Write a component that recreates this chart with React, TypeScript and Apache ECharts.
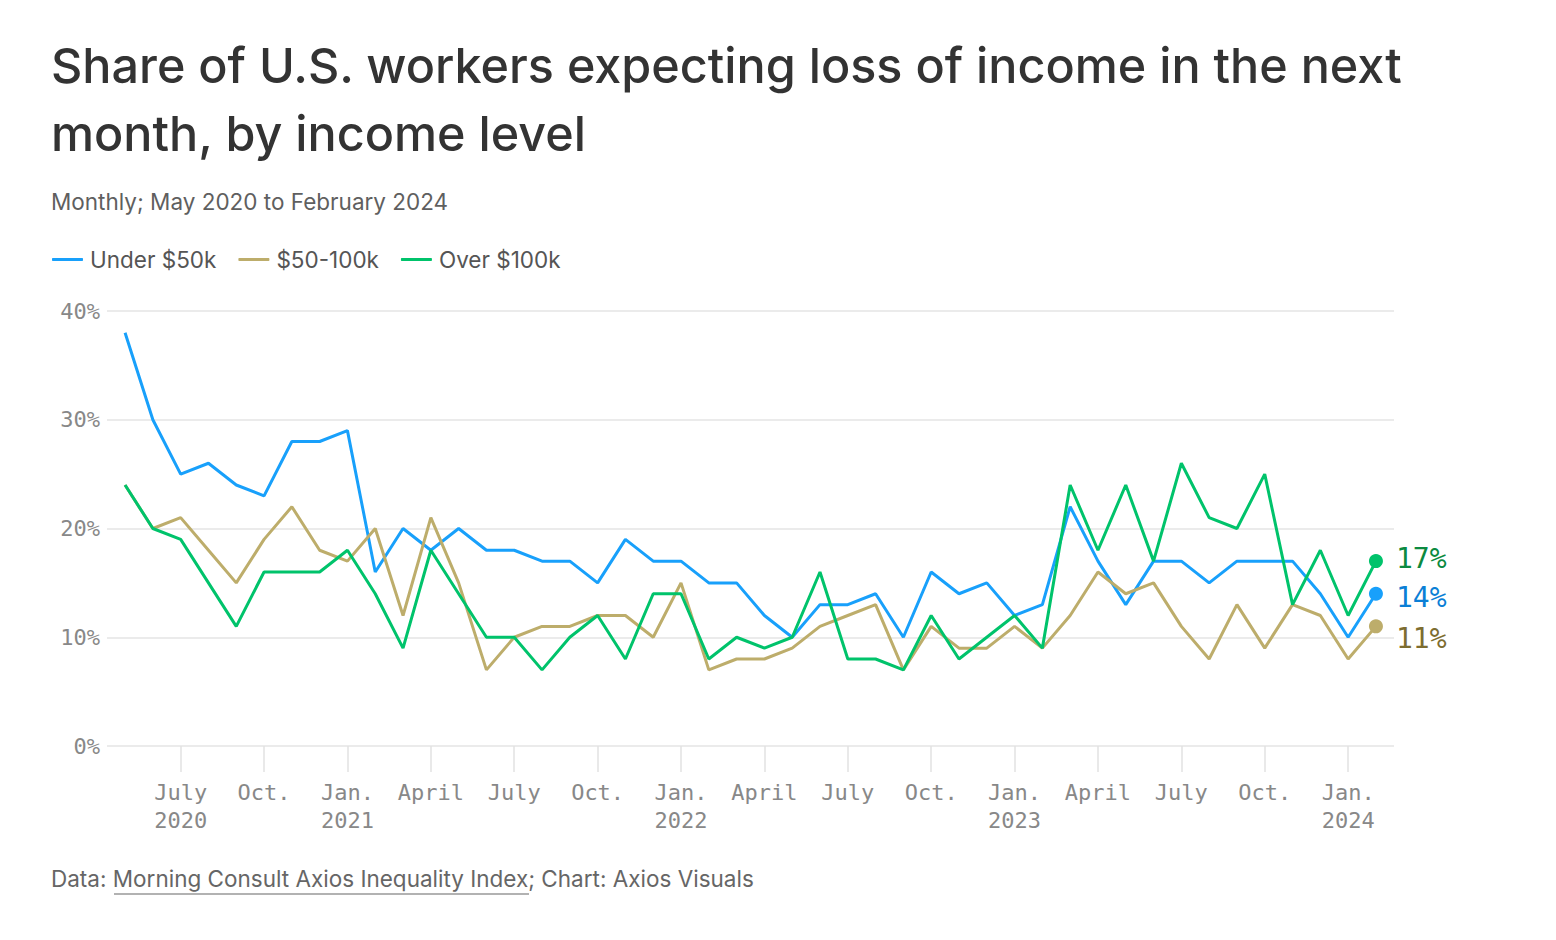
import React, { useEffect, useRef } from "react";
import * as echarts from "echarts";

const months = [
  "May 2020", "June 2020", "July 2020", "Aug. 2020", "Sept. 2020", "Oct. 2020", "Nov. 2020", "Dec. 2020",
  "Jan. 2021", "Feb. 2021", "March 2021", "April 2021", "May 2021", "June 2021", "July 2021", "Aug. 2021",
  "Sept. 2021", "Oct. 2021", "Nov. 2021", "Dec. 2021",
  "Jan. 2022", "Feb. 2022", "March 2022", "April 2022", "May 2022", "June 2022", "July 2022", "Aug. 2022",
  "Sept. 2022", "Oct. 2022", "Nov. 2022", "Dec. 2022",
  "Jan. 2023", "Feb. 2023", "March 2023", "April 2023", "May 2023", "June 2023", "July 2023", "Aug. 2023",
  "Sept. 2023", "Oct. 2023", "Nov. 2023", "Dec. 2023",
  "Jan. 2024", "Feb. 2024",
];

const under50k = [
  38, 30, 25, 26, 24, 23, 28, 28,
  29, 16, 20, 18, 20, 18, 18, 17, 17, 15, 19, 17,
  17, 15, 15, 12, 10, 13, 13, 14, 10, 16, 14, 15,
  12, 13, 22, 17, 13, 17, 17, 15, 17, 17, 17, 14,
  10, 14,
];

const mid50to100k = [
  24, 20, 21, 18, 15, 19, 22, 18,
  17, 20, 12, 21, 15, 7, 10, 11, 11, 12, 12, 10,
  15, 7, 8, 8, 9, 11, 12, 13, 7, 11, 9, 9,
  11, 9, 12, 16, 14, 15, 11, 8, 13, 9, 13, 12,
  8, 11,
];

const over100k = [
  24, 20, 19, 15, 11, 16, 16, 16,
  18, 14, 9, 18, 14, 10, 10, 7, 10, 12, 8, 14,
  14, 8, 10, 9, 10, 16, 8, 8, 7, 12, 8, 10,
  12, 9, 24, 18, 24, 17, 26, 21, 20, 25, 13, 18,
  12, 17,
];

const tickIndices = [2, 5, 8, 11, 14, 17, 20, 23, 26, 29, 32, 35, 38, 41, 44];
const tickLabels = [
  "July\n2020", "Oct.", "Jan.\n2021", "April", "July", "Oct.", "Jan.\n2022", "April",
  "July", "Oct.", "Jan.\n2023", "April", "July", "Oct.", "Jan.\n2024",
];

const seriesNames = ["Under $50k", "$50-100k", "Over $100k"];
const lineColors = ["#18a0fb", "#bdad6b", "#00c36b"];
const labelColors = ["#0b7fd6", "#7d6d30", "#0c8a40"];
const labelOffsets = [4, 12, -3];

const SANS = "Inter, 'Noto Sans', sans-serif";
const MONO = "'DejaVu Sans Mono', 'Liberation Mono', monospace";

export default function App() {
  const ref = useRef<HTMLDivElement>(null);

  useEffect(() => {
    if (!ref.current) return;
    const chart = echarts.init(ref.current, null, { renderer: "svg" });
    const allData = [under50k, mid50to100k, over100k];
    const n = months.length;

    const series = allData.map((vals, si) => ({
      name: seriesNames[si],
      type: "line",
      data: vals.map((v, i) => [i, v]),
      lineStyle: { color: lineColors[si], width: 3 },
      itemStyle: { color: lineColors[si] },
      symbol: "circle",
      showSymbol: true,
      showAllSymbol: true,
      symbolSize: (_v: any, p: any) => (p.dataIndex === n - 1 ? 14 : 0),
      emphasis: { disabled: true },
      z: 2 + si,
      endLabel: {
        show: true,
        formatter: (p: any) => `${p.value[1]}%`,
        color: labelColors[si],
        fontFamily: MONO,
        fontSize: 28,
        distance: 20,
        offset: [0, labelOffsets[si]],
      },
    }));

    chart.setOption({
      animation: false,
      backgroundColor: "#ffffff",
      title: [
        {
          text: "Share of U.S. workers expecting loss of income in the next\nmonth, by income level",
          left: 51,
          top: 31,
          padding: 0,
          textStyle: {
            fontFamily: SANS,
            fontSize: 48.5,
            fontWeight: 500,
            lineHeight: 68,
            color: "#333333",
          },
        },
        {
          text: "Monthly; May 2020 to February 2024",
          left: 51,
          top: 190,
          padding: 0,
          textStyle: { fontFamily: SANS, fontSize: 22.5, fontWeight: 400, color: "#5f5f5f" },
        },
        {
          text: "Data: Morning Consult Axios Inequality Index; Chart: Axios Visuals",
          left: 51,
          top: 867,
          padding: 0,
          textStyle: { fontFamily: SANS, fontSize: 22.5, fontWeight: 400, color: "#666666" },
        },
      ],
      legend: {
        left: 52,
        top: 248,
        padding: 0,
        icon: "roundRect",
        itemWidth: 31,
        itemHeight: 3,
        itemGap: 22,
        selectedMode: false,
        data: seriesNames,
        textStyle: { fontFamily: SANS, fontSize: 22.5, color: "#555555", padding: [0, 0, 0, 2] },
      },
      grid: { left: 107, right: 162, top: 311, bottom: 194, containLabel: false },
      xAxis: {
        type: "value",
        min: -0.65,
        max: 45.65,
        axisLine: { show: false },
        splitLine: { show: false },
        axisTick: {
          show: true,
          customValues: tickIndices,
          length: 26,
          lineStyle: { color: "#e2e2e2", width: 1.5 },
        },
        axisLabel: {
          customValues: tickIndices,
          formatter: (v: number) => {
            const k = tickIndices.indexOf(Math.round(v));
            return k >= 0 ? tickLabels[k] : "";
          },
          fontFamily: MONO,
          fontSize: 22,
          lineHeight: 28,
          color: "#888888",
          margin: 32,
        },
      },
      yAxis: {
        type: "value",
        min: 0,
        max: 40,
        interval: 10,
        axisLine: { show: false },
        axisTick: { show: false },
        splitLine: { lineStyle: { color: "#e5e5e5", width: 1.5 } },
        axisLabel: {
          formatter: "{value}%",
          fontFamily: MONO,
          fontSize: 22,
          color: "#888888",
          margin: 7,
        },
      },
      graphic: [
        {
          type: "line",
          shape: { x1: 114, y1: 894, x2: 529, y2: 894 },
          style: { stroke: "#666666", lineWidth: 1.2 },
        },
      ],
      series,
    });

    return () => chart.dispose();
  }, []);

  return (
    <div
      ref={ref}
      style={{ position: "fixed", left: 0, top: 0, width: 1556, height: 940, background: "#fff" }}
    />
  );
}
